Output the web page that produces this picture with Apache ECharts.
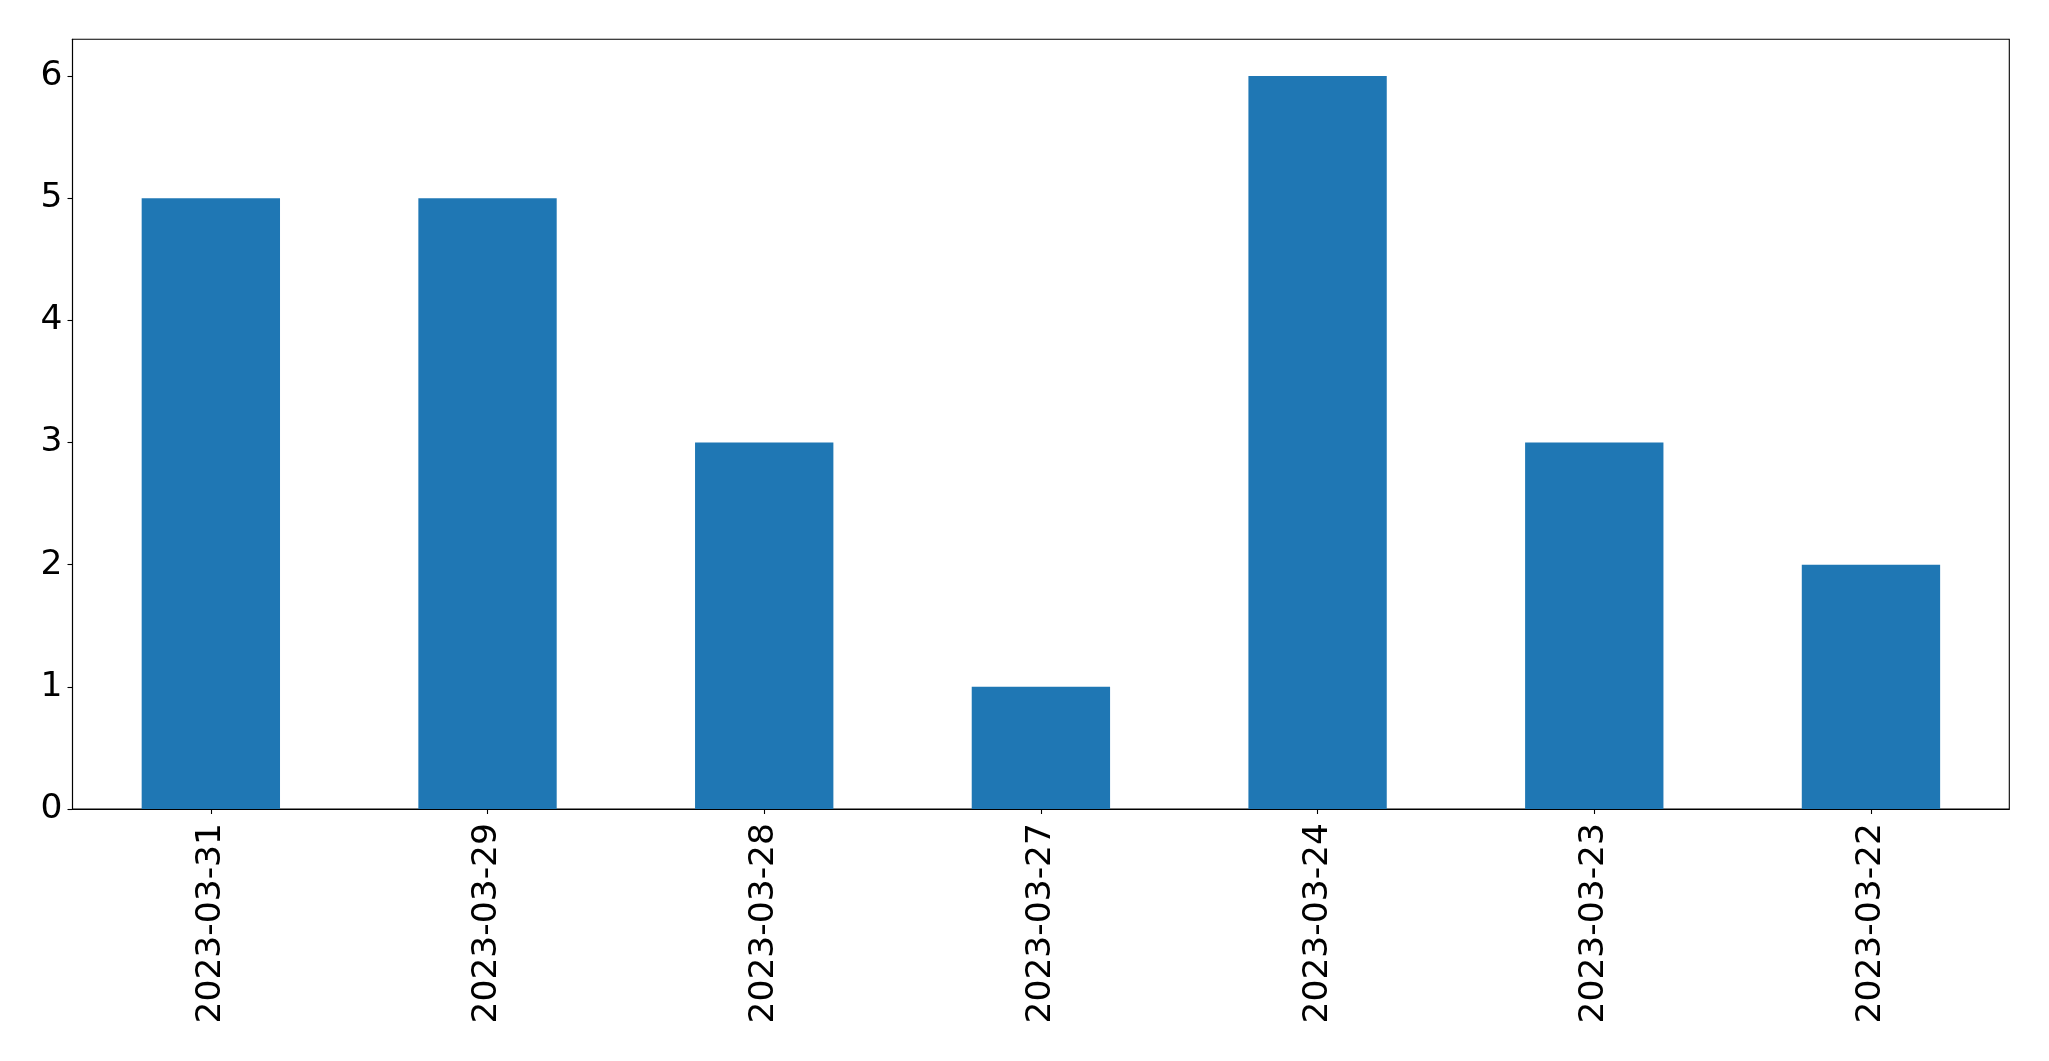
<!DOCTYPE html>
<html>
<head>
<meta charset="utf-8">
<script src="https://cdn.jsdelivr.net/npm/echarts@6/dist/echarts.min.js"></script>
<style>
html,body{margin:0;padding:0;background:#fff;}
#chart{width:2049px;height:1061px;}
</style>
</head>
<body>
<div id="chart"></div>
<script>
const categories = ['2023-03-31','2023-03-29','2023-03-28','2023-03-27','2023-03-24','2023-03-23','2023-03-22'];
const values = [5, 5, 3, 1, 6, 3, 2];
const yTicks = [0, 1, 2, 3, 4, 5, 6];

const chart = echarts.init(document.getElementById('chart'), null, {renderer: 'canvas'});
const font = 'DejaVu Sans';
chart.setOption({
  animation: false,
  backgroundColor: '#ffffff',
  grid: {
    left: 72.5, right: 39.7, top: 39.3, bottom: 252,
    show: true, borderColor: '#000', borderWidth: 1.1, backgroundColor: 'transparent',
    containLabel: false
  },
  xAxis: {
    type: 'category',
    data: categories,
    boundaryGap: true,
    axisLine: {show: true, lineStyle: {color: '#000', width: 1.1}},
    axisTick: {show: true, alignWithLabel: true, length: 5, lineStyle: {color: '#000', width: 1.1}},
    axisLabel: {rotate: 90, margin: 14, color: '#000', fontFamily: font, fontSize: 34.5, interval: 0}
  },
  yAxis: {
    type: 'value',
    min: 0, max: 6.3, interval: 1,
    splitLine: {show: false},
    axisLine: {show: true, lineStyle: {color: '#000', width: 1.1}},
    axisTick: {show: true, length: 5, customValues: yTicks, lineStyle: {color: '#000', width: 1.1}},
    axisLabel: {customValues: yTicks, margin: 10, padding: [8, 0, 0, 0], color: '#000', fontFamily: font, fontSize: 34.5}
  },
  series: [{
    type: 'bar',
    data: values,
    barWidth: '50%',
    itemStyle: {color: '#1f77b4'}
  }]
});
</script>
</body>
</html>
